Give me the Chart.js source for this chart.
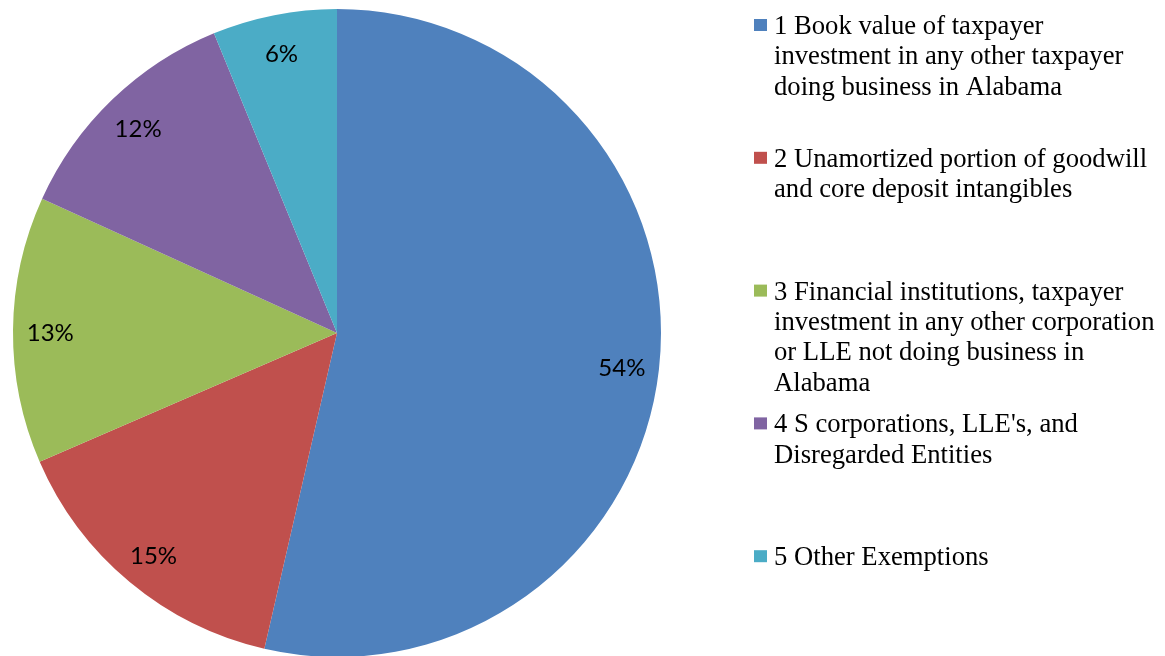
<!DOCTYPE html>
<html lang="en">
<head>
<meta charset="UTF-8">
<title>Exemptions pie</title>
<script src="https://cdn.jsdelivr.net/npm/chart.js"></script>
<style>
    html, body { margin: 0; padding: 0; background: #fff; overflow: hidden; }
    #wrap { position: relative; width: 1165px; height: 666px; }
</style>
</head>
<body>
<div id="wrap"><canvas id="grafico"></canvas></div>

<script>
    // legend text, one array of lines per category (wrapped as in the original)
    const categoryLines = [
        ["1 Book value of taxpayer", "investment in any other taxpayer", "doing business in Alabama"],
        ["2 Unamortized portion of goodwill", "and core deposit intangibles"],
        ["3 Financial institutions, taxpayer", "investment in any other corporation", "or LLE not doing business in", "Alabama"],
        ["4 S corporations, LLE's, and", "Disregarded Entities"],
        ["5 Other Exemptions"]
    ];
    const categories = categoryLines.map(l => l.join(" "));
    const values = [53.6, 14.9, 13.3, 12.0, 6.2];
    const colors = ["#4F81BD", "#C0504D", "#9BBB59", "#8064A2", "#4BACC6"];

    // percentage labels inside the slices
    const sliceLabels = {
        id: "sliceLabels",
        afterDatasetsDraw(chart) {
            const ctx = chart.ctx;
            const data = chart.data.datasets[0].data;
            const total = data.reduce((a, b) => a + b, 0);
            ctx.save();
            ctx.font = "24px Lato";
            ctx.fillStyle = "#000";
            ctx.textAlign = "center";
            ctx.textBaseline = "middle";
            chart.getDatasetMeta(0).data.forEach((arc, i) => {
                const p = arc.getProps(["x", "y", "startAngle", "endAngle", "outerRadius"], true);
                const mid = (p.startAngle + p.endAngle) / 2;
                const r = p.outerRadius * 0.885;
                const txt = Math.round(data[i] / total * 100) + "%";
                ctx.fillText(txt, p.x + Math.cos(mid) * r, p.y + Math.sin(mid) * r + 3);
            });
            ctx.restore();
        }
    };

    // legend on the right, with wrapped lines
    const sideLegend = {
        id: "sideLegend",
        afterDraw(chart) {
            const ctx = chart.ctx;
            const bg = chart.data.datasets[0].backgroundColor;
            ctx.save();
            ctx.font = "26.67px 'Liberation Serif'";
            ctx.textBaseline = "alphabetic";
            categoryLines.forEach((lines, i) => {
                const base = 34 + i * 132.8;
                ctx.fillStyle = bg[i];
                ctx.fillRect(754, base - 15, 13, 12);
                ctx.fillStyle = "#000";
                lines.forEach((line, j) => {
                    ctx.fillText(line, 774, base + j * 30.3);
                });
            });
            ctx.restore();
        }
    };

    const grafico = new Chart(document.getElementById("grafico"), {
        type: "pie",
        data: {
            labels: categories,
            datasets: [{
                data: values,
                backgroundColor: colors,
                borderWidth: 0
            }]
        },
        options: {
            responsive: true,
            maintainAspectRatio: false,
            animation: false,
            layout: {
                padding: { left: 13, right: 504, top: 9, bottom: 9 }
            },
            plugins: {
                legend: { display: false },
                tooltip: { enabled: false }
            }
        },
        plugins: [sliceLabels, sideLegend]
    });
</script>
</body>
</html>
